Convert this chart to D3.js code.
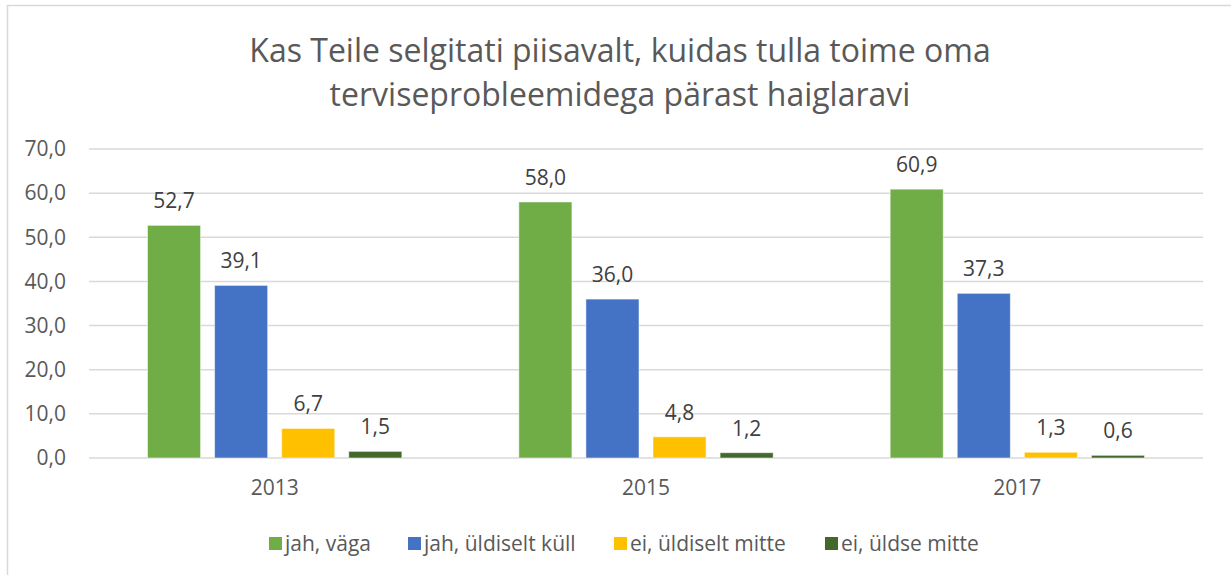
<!DOCTYPE html>
<html>
<head>
<meta charset="utf-8">
<script src="https://cdn.jsdelivr.net/npm/d3@7"></script>
<style>
  body { margin: 0; background: #ffffff; }
  text { font-family: "Open Sans", sans-serif; }
</style>
</head>
<body>
<div id="chart"></div>
<script>
const w = 1231;
const h = 575;

// data
const years = ["2013", "2015", "2017"];
const seriesNames = ["jah, väga", "jah, üldiselt küll", "ei, üldiselt mitte", "ei, üldse mitte"];
const seriesColors = ["#70AD47", "#4472C4", "#FFC000", "#43682B"];
const vaga = [52.7, 58.0, 60.9];
const yldiseltKull = [39.1, 36.0, 37.3];
const yldiseltMitte = [6.7, 4.8, 1.3];
const yldseMitte = [1.5, 1.2, 0.6];
const yTicks = [0, 10, 20, 30, 40, 50, 60, 70];
const titleLines = ["Kas Teile selgitati piisavalt, kuidas tulla toime oma", "terviseprobleemidega pärast haiglaravi"];

const seriesValues = [vaga, yldiseltKull, yldiseltMitte, yldseMitte];
const fmt = d => d3.format(".1f")(d).replace(".", ",");

let svg = d3.select("div#chart").append("svg")
    .attr("width", w)
    .attr("height", h)
    .style("display", "block");

// chart border
svg.append("rect")
    .attr("x", 7.5).attr("y", 5.5)
    .attr("width", w).attr("height", h)
    .attr("fill", "none")
    .attr("stroke", "#D9D9D9")
    .attr("stroke-width", 1.5);

// title
svg.append("g").selectAll("text")
    .data(titleLines)
    .join("text")
    .attr("x", 620)
    .attr("y", (d, i) => 62 + i * 44)
    .attr("text-anchor", "middle")
    .attr("font-size", 32)
    .attr("fill", "#595959")
    .text(d => d);

const plot = { left: 89, right: 1203, top: 149, bottom: 458 };

let y = d3.scaleLinear().domain([0, 70]).range([plot.bottom, plot.top]);
let x0 = d3.scaleBand().domain(years).range([plot.left, plot.right]).padding(0);
let bandW = x0.bandwidth();
let x1 = d3.scaleBand().domain(seriesNames)
    .range([58.5, bandW - 58.5])
    .paddingInner(14 / 67);

// gridlines
svg.append("g").selectAll("line")
    .data(yTicks)
    .join("line")
    .attr("x1", plot.left).attr("x2", plot.right)
    .attr("y1", d => y(d)).attr("y2", d => y(d))
    .attr("stroke", "#D9D9D9")
    .attr("stroke-width", 1.5);

// y axis labels
let yAxis = svg.append("g")
    .attr("transform", "translate(76,0)")
    .call(d3.axisLeft(y).tickValues(yTicks).tickSize(0).tickPadding(10).tickFormat(fmt));
yAxis.select(".domain").remove();
yAxis.selectAll("text")
    .attr("font-size", 21)
    .attr("font-family", "'Open Sans', sans-serif")
    .attr("fill", "#595959");

// x axis labels
let xAxis = svg.append("g")
    .attr("transform", "translate(0," + plot.bottom + ")")
    .call(d3.axisBottom(x0).tickSize(0).tickPadding(22));
xAxis.select(".domain").remove();
xAxis.selectAll("text")
    .attr("font-size", 21)
    .attr("font-family", "'Open Sans', sans-serif")
    .attr("fill", "#595959");

// bars
const groups = svg.append("g").selectAll("g")
    .data(seriesNames)
    .join("g");

groups.each(function(name, si) {
    let g = d3.select(this);
    let rows = years.map((yr, i) => ({ year: yr, value: seriesValues[si][i] }));
    g.selectAll("rect")
        .data(rows)
        .join("rect")
        .attr("x", d => x0(d.year) + x1(name))
        .attr("y", d => y(d.value))
        .attr("width", x1.bandwidth())
        .attr("height", d => y(0) - y(d.value))
        .attr("fill", seriesColors[si])
        .attr("stroke", "#ffffff")
        .attr("stroke-opacity", 0.5)
        .attr("stroke-width", 1);
    g.selectAll("text")
        .data(rows)
        .join("text")
        .attr("x", d => x0(d.year) + x1(name) + x1.bandwidth() / 2)
        .attr("y", d => y(d.value) - 17)
        .attr("text-anchor", "middle")
        .attr("font-size", 21)
        .attr("fill", "#404040")
        .text(d => fmt(d.value));
});

// legend
const legendX = [269, 408, 614, 825];
let legend = svg.append("g").selectAll("g")
    .data(seriesNames)
    .join("g")
    .attr("transform", (d, i) => "translate(" + legendX[i] + ",537)");
legend.append("rect")
    .attr("width", 13).attr("height", 13)
    .attr("fill", (d, i) => seriesColors[i]);
legend.append("text")
    .attr("x", 16)
    .attr("y", 13.5)
    .attr("font-size", 21)
    .attr("fill", "#595959")
    .text(d => d);
</script>
</body>
</html>
